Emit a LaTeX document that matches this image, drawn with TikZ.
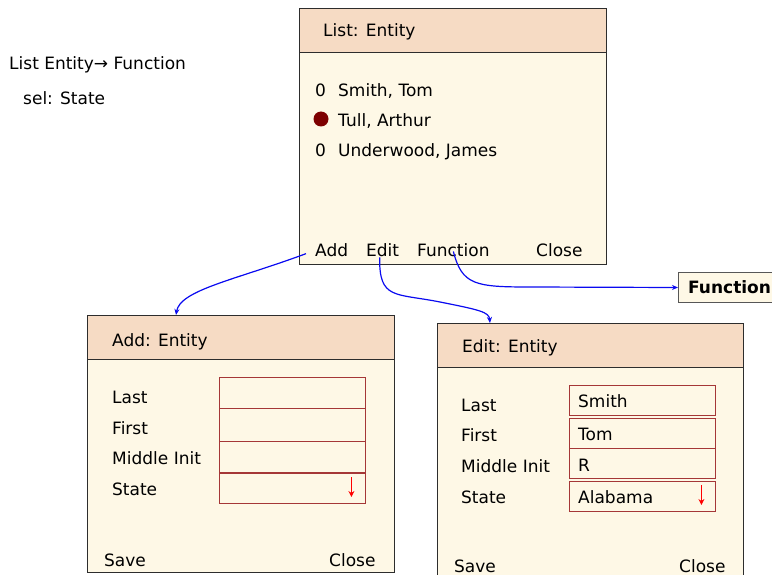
\documentclass[tikz,border=0pt]{standalone}
\usepackage{fontspec}
\setmainfont{DejaVu Sans}
\usetikzlibrary{arrows.meta,calc}
\newcommand{\wfont}{\fontsize{17}{20}\selectfont}
\definecolor{headfill}{RGB}{246,219,196}
\definecolor{bodyfill}{RGB}{254,248,230}
\definecolor{framegray}{RGB}{45,45,45}
\definecolor{fieldred}{RGB}{165,55,55}
\definecolor{dotred}{RGB}{125,0,0}
\definecolor{linkblue}{RGB}{10,10,240}
\tikzset{
  win/.style={draw=framegray,line width=1.2pt,fill=bodyfill,anchor=north west,inner sep=0,minimum width=307pt},
  winhead/.style={draw=framegray,line width=1.2pt,fill=headfill,anchor=north west,inner sep=0,minimum width=307pt,minimum height=44pt},
  txt/.style={anchor=base west,inner sep=0,font=\wfont},
  field/.style={draw=fieldred,line width=1.4pt,anchor=north west,inner sep=0,minimum width=146pt},
  link/.style={draw=linkblue,line width=1.2pt,-{Stealth[length=6pt,width=5pt]}},
  drop/.style={red,line width=1.8pt,-{Stealth[length=6pt,width=6pt]}}
}
\begin{document}
\begin{tikzpicture}[x=1pt,y=-1pt]
    \useasboundingbox (0,0) rectangle (772,575);

    \node(title) at (9,70) [txt] {List Entity→ Function};
    \node(selnote) at (23,105) [txt] {sel: State};

    \node(listwin) at (299,8) [win,minimum height=256pt] {};
    \node(listhead) at (299,8) [winhead] {};
    \node(listtitle) at (323,37) [txt] {List: Entity};
    \node(zero1) at (315,97) [txt] {0};
    \node(smith) at (338,97) [txt] {Smith, Tom};
    \node(seldot) at (321,119) [circle,fill=dotred,inner sep=0,minimum size=15pt] {};
    \node(tull) at (338,127) [txt] {Tull, Arthur};
    \node(zero3) at (315,157) [txt] {0};
    \node(underwood) at (338,157) [txt] {Underwood, James};
    \node(add) at (315,257) [txt] {Add};
    \node(edit) at (366,257) [txt] {Edit};
    \node(func) at (417,257) [txt] {Function};
    \node(close) at (536,257) [txt] {Close};

    \node(fnbox) at (678,272) [draw=framegray!80,line width=1pt,fill=bodyfill,anchor=north west,inner sep=0,minimum width=100pt,minimum height=30pt] {};
    \node(fntext) at (688,293) [txt,font=\wfont\bfseries] {Function};

    \node(addwin) at (87,315) [win,minimum height=257pt] {};
    \node(addhead) at (87,315) [winhead] {};
    \node(addtitle) at (112,346) [txt] {Add: Entity};
    \node(alast) at (112,403) [txt] {Last};
    \node(afirst) at (112,434) [txt] {First};
    \node(amid) at (112,464) [txt] {Middle Init};
    \node(astate) at (112,495) [txt] {State};
    \node(af1) at (219,377) [field,minimum height=31pt] {};
    \node(af2) at (219,408) [field,minimum height=33pt] {};
    \node(af3) at (219,441) [field,minimum height=31pt] {};
    \node(af4) at (219,473) [field,minimum height=30pt] {};
    \draw[drop] ($(af4.north east)+(-15,4)$) -- ($(af4.north east)+(-15,24)$);
    \node(asave) at (104,566) [txt] {Save};
    \node(aclose) at (329,566) [txt] {Close};

    \node(editwin) at (437,323) [win,minimum width=306pt,minimum height=257pt] {};
    \node(edithead) at (437,323) [winhead,minimum width=306pt] {};
    \node(edittitle) at (462,352) [txt] {Edit: Entity};
    \node(elast) at (461,411) [txt] {Last};
    \node(efirst) at (461,441) [txt] {First};
    \node(emid) at (461,472) [txt] {Middle Init};
    \node(estate) at (461,503) [txt] {State};
    \node(ef1) at (569,385) [field,minimum height=30pt] {};
    \node(ef2) at (569,418) [field,minimum height=30pt] {};
    \node(ef3) at (569,448) [field,minimum height=30pt] {};
    \node(ef4) at (569,481) [field,minimum height=30pt] {};
    \node(esmith) at (578,407) [txt] {Smith};
    \node(etom) at (578,440) [txt] {Tom};
    \node(er) at (578,471) [txt] {R};
    \node(ealabama) at (578,503) [txt] {Alabama};
    \draw[drop] ($(ef4.north east)+(-15,4)$) -- ($(ef4.north east)+(-15,24)$);
    \node(esave) at (454,572) [txt] {Save};
    \node(eclose) at (679,572) [txt] {Close};

    \draw[link] ($(add.west)+(-9,3)$) .. controls (235,280) and (180,290) .. ($(addwin.north west)+(89,0)$);
    \draw[link] ($(edit.south)+(-3,0)$) .. controls (379,300) and (395,293) .. (440,302)
        .. controls (480,310) and (489,312) .. ($(editwin.north west)+(53,0)$);
    \draw[link] ($(func.south)+(0,-6)$) .. controls (462,285) and (475,287) .. (530,287) -- (fnbox.west);
\end{tikzpicture}
\end{document}
